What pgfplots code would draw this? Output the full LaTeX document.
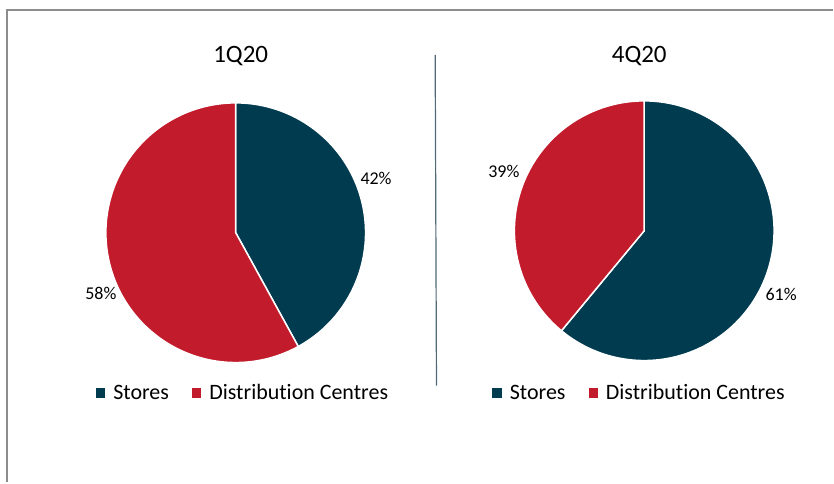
\documentclass[border=0pt]{standalone}
\usepackage{pgfplots}
\usepackage{pgfplotstable}
\pgfplotsset{compat=1.18}
\usepackage{fontspec}
\setmainfont[Ligatures=NoCommon]{Carlito}
\definecolor{cStores}{RGB}{0,59,79}
\definecolor{cDC}{RGB}{194,27,43}
\definecolor{frameg}{RGB}{140,140,140}
\definecolor{divc}{RGB}{80,105,120}

\pgfplotstableread{
quarter stores dc
1Q20 42 58
4Q20 61 39
}\piedata
\pgfplotstablegetelem{0}{stores}\of\piedata \let\sA\pgfplotsretval
\pgfplotstablegetelem{0}{dc}\of\piedata \let\dA\pgfplotsretval
\pgfplotstablegetelem{1}{stores}\of\piedata \let\sB\pgfplotsretval
\pgfplotstablegetelem{1}{dc}\of\piedata \let\dB\pgfplotsretval
\pgfmathsetmacro\eA{90-3.6*\sA}
\pgfmathsetmacro\eB{90-3.6*\sB}

\pgfplotsset{
  pieaxis/.style={
    width=834pt, height=483pt, scale only axis,
    xmin=0, xmax=834, ymin=0, ymax=483,
    hide axis, clip=false,
    title style={font=\fontsize{25}{30}\selectfont, anchor=base, inner sep=0pt},
    legend columns=2,
    legend image code/.code={\fill[##1,draw=none] (0pt,1.2pt) rectangle (9.4pt,10.6pt);},
    legend style={draw=none, fill=none, inner sep=0pt, outer sep=0pt,
      font=\fontsize{22}{26}\selectfont,
      nodes={inner sep=0pt, anchor=base west},
      /tikz/every odd column/.append style={column sep=8pt},
      /tikz/every even column/.append style={column sep=23pt}},
    legend cell align=left,
  }
}

\begin{document}
\begin{tikzpicture}
\begin{axis}[pieaxis,
  title={1Q20}, title style={at={(axis description cs:0.28897,0.85714)}},
  legend style={at={(axis cs:96,82)}, anchor=south west}]
  \path (rel axis cs:0,0) rectangle (rel axis cs:1,1);
  \addplot[fill=cStores, draw=white, line width=1.5pt, domain=\eA:90, samples=91, variable=\t]
    ({236+130*cos(\t)},{250+130*sin(\t)}) -- (axis cs:236,250) -- cycle;
  \addplot[fill=cDC, draw=white, line width=1.5pt, domain=-270:\eA, samples=121, variable=\t]
    ({236+130*cos(\t)},{250+130*sin(\t)}) -- (axis cs:236,250) -- cycle;
  \legend{Stores, Distribution Centres}
  \node[font=\fontsize{18}{22}\selectfont, anchor=base, inner sep=0pt] at (axis cs:376.5,298) {\sA\%};
  \node[font=\fontsize{18}{22}\selectfont, anchor=base, inner sep=0pt] at (axis cs:101,183) {\dA\%};
  % frame and divider
  \draw[frameg, line width=2pt] (axis cs:7,0) -- (axis cs:7,473) -- (axis cs:834,473);
  \draw[divc, line width=1.2pt] (axis cs:435.7,428) -- (axis cs:437,97);
\end{axis}
\begin{axis}[pieaxis,
  title={4Q20}, title style={at={(axis description cs:0.76739,0.85714)}},
  legend style={at={(axis cs:493,82)}, anchor=south west}]
  \addplot[fill=cStores, draw=white, line width=1.5pt, domain=\eB:90, samples=121, variable=\t]
    ({645+130*cos(\t)},{252+130*sin(\t)}) -- (axis cs:645,252) -- cycle;
  \addplot[fill=cDC, draw=white, line width=1.5pt, domain=-270:\eB, samples=91, variable=\t]
    ({645+130*cos(\t)},{252+130*sin(\t)}) -- (axis cs:645,252) -- cycle;
  \legend{Stores, Distribution Centres}
  \node[font=\fontsize{18}{22}\selectfont, anchor=base, inner sep=0pt] at (axis cs:504.5,305) {\dB\%};
  \node[font=\fontsize{18}{22}\selectfont, anchor=base, inner sep=0pt] at (axis cs:782,182) {\sB\%};
\end{axis}
\end{tikzpicture}
\end{document}
